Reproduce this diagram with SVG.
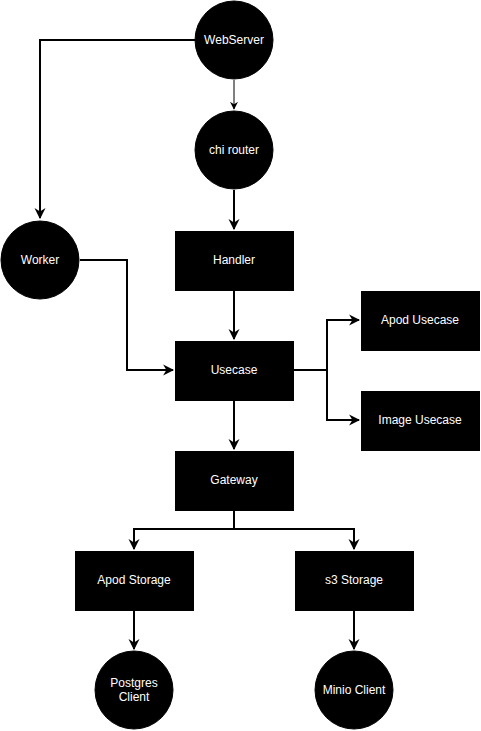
<svg xmlns="http://www.w3.org/2000/svg" width="481" height="731" viewBox="0 0 481 731">
<style>
.n{fill:#000;stroke:#000;stroke-width:1}
.t{fill:#fff;font-family:"Liberation Sans",Arial,sans-serif;font-size:12px;text-anchor:middle;dominant-baseline:central}
.c{fill:none;stroke:#000;stroke-width:2}
.c1{fill:none;stroke:#000;stroke-width:1}
</style>
<defs>
<marker id="a" viewBox="0 0 10 10" refX="9" refY="5" markerWidth="5.5" markerHeight="6" orient="auto" markerUnits="strokeWidth">
<path d="M0,0 L10,5 L0,10 L3,5 Z" fill="#000"/>
</marker>
<marker id="a1" viewBox="0 0 10 10" refX="9" refY="5" markerWidth="8" markerHeight="8" orient="auto" markerUnits="strokeWidth">
<path d="M0,0 L10,5 L0,10 L3,5 Z" fill="#000"/>
</marker>
</defs>
<rect width="481" height="731" fill="#fff"/>
<g id="connectors">
<path class="c" d="M195,40 H40 V218" marker-end="url(#a)"/>
<path class="c1" d="M234,80 V109" marker-end="url(#a1)"/>
<path class="c" d="M234,190 V229" marker-end="url(#a)"/>
<path class="c" d="M80,260 H127 V370 H173" marker-end="url(#a)"/>
<path class="c" d="M234,291 V339" marker-end="url(#a)"/>
<path class="c" d="M294,370 H327 V320 H359" marker-end="url(#a)"/>
<path class="c" d="M294,370 H327 V420 H359" marker-end="url(#a)"/>
<path class="c" d="M234,401 V449" marker-end="url(#a)"/>
<path class="c" d="M234,511 V529 H134 V549" marker-end="url(#a)"/>
<path class="c" d="M234,511 V529 H354 V549" marker-end="url(#a)"/>
<path class="c" d="M134,611 V649" marker-end="url(#a)"/>
<path class="c" d="M354,611 V649" marker-end="url(#a)"/>
</g>
<g id="webserver"><circle class="n" cx="234" cy="40" r="39"/><text class="t" x="234" y="40">WebServer</text></g>
<g id="chirouter"><circle class="n" cx="234" cy="150" r="39"/><text class="t" x="234" y="150">chi router</text></g>
<g id="worker"><circle class="n" cx="40" cy="260" r="39"/><text class="t" x="40" y="260">Worker</text></g>
<g id="handler"><rect class="n" x="175.5" y="231.5" width="118" height="59"/><text class="t" x="234" y="260">Handler</text></g>
<g id="usecase"><rect class="n" x="175.5" y="341.5" width="118" height="59"/><text class="t" x="234" y="370">Usecase</text></g>
<g id="apodusecase"><rect class="n" x="361.5" y="291.5" width="118" height="59"/><text class="t" x="420" y="320">Apod Usecase</text></g>
<g id="imageusecase"><rect class="n" x="361.5" y="391.5" width="118" height="59"/><text class="t" x="420" y="420">Image Usecase</text></g>
<g id="gateway"><rect class="n" x="175.5" y="451.5" width="118" height="59"/><text class="t" x="234" y="480">Gateway</text></g>
<g id="apodstorage"><rect class="n" x="75.5" y="551.5" width="118" height="59"/><text class="t" x="134" y="580">Apod Storage</text></g>
<g id="s3storage"><rect class="n" x="295.5" y="551.5" width="118" height="59"/><text class="t" x="354" y="580">s3 Storage</text></g>
<g id="postgres"><circle class="n" cx="134" cy="690" r="39"/><text class="t" x="134" y="683">Postgres</text><text class="t" x="134" y="697">Client</text></g>
<g id="minio"><circle class="n" cx="354" cy="690" r="39"/><text class="t" x="354" y="690">Minio Client</text></g>
</svg>
